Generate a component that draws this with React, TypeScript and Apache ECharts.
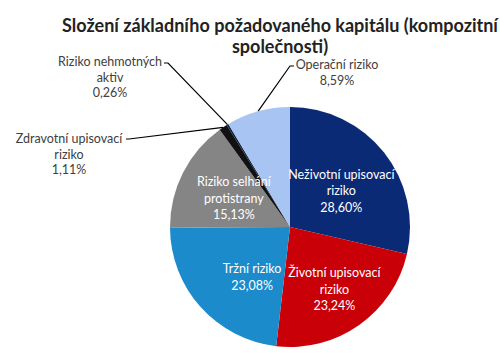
import React, { useEffect, useRef } from "react";
import * as echarts from "echarts";

const categories = [
  "Neživotní upisovací riziko",
  "Životní upisovací riziko",
  "Tržní riziko",
  "Riziko selhání protistrany",
  "Zdravotní upisovací riziko",
  "Riziko nehmotných aktiv",
  "Operační riziko",
];
const labelLines = [
  "Neživotní upisovací\nriziko",
  "Životní upisovací\nriziko",
  "Tržní riziko",
  "Riziko selhání\nprotistrany",
  "Zdravotní upisovací\nriziko",
  "Riziko nehmotných\naktiv",
  "Operační riziko",
];
const values = [28.6, 23.24, 23.08, 15.13, 1.11, 0.26, 8.59];
const colors = ["#0b2a76", "#c90008", "#1b8bcb", "#858585", "#111111", "#14243f", "#a8c4f2"];
const outside = [false, false, false, false, true, true, true];
const titleLines = ["Složení základního požadovaného kapitálu (kompozitní", "společnosti)"];

const FONT = "Lato, 'Liberation Sans', sans-serif";

export default function App() {
  const ref = useRef<HTMLDivElement>(null);
  useEffect(() => {
    document.body.style.margin = "0";
    const chart = echarts.init(ref.current!, undefined, { renderer: "svg" });
    const outerPos: Record<number, { x: number; y: number; bend: [number, number]; end: [number, number] }> = {
      4: { x: 69, y: 131, bend: [129, 139], end: [126, 139] },
      5: { x: 110, y: 54, bend: [168, 63], end: [164, 63] },
      6: { x: 337, y: 57, bend: [290, 66], end: [294, 66] },
    };
    const innerShift: Record<number, { dx: number; dy: number }> = {
      0: { dx: 2, dy: 3 },
      1: { dx: 8, dy: 11 },
      2: { dx: 9, dy: 8 },
    };
    chart.setOption({
      animation: false,
      backgroundColor: "#ffffff",
      title: titleLines.map((t, k) => ({
        text: t,
        left: 275,
        top: 11 + k * 21,
        textAlign: "center",
        textStyle: {
          fontFamily: FONT,
          fontSize: 18,
          fontWeight: "bold",
          color: "#222",
        },
      })),
      series: [
        {
          type: "pie",
          center: [290, 227],
          radius: [0, 120],
          startAngle: 90,
          clockwise: true,
          avoidLabelOverlap: false,
          itemStyle: { borderWidth: 0 },
          data: values.map((v, i) => ({
            name: categories[i],
            value: v,
            itemStyle: { color: colors[i] },
            label: outside[i]
              ? {
                  show: true,
                  position: "outside",
                  color: "#404040",
                  fontFamily: FONT,
                  fontSize: 12.5,
                  lineHeight: 15.5,
                  align: "center",
                  formatter: () => `${labelLines[i]}\n${v.toFixed(2).replace(".", ",")}%`,
                }
              : {
                  show: true,
                  position: "inside",
                  color: "#ffffff",
                  fontFamily: FONT,
                  fontSize: 12.5,
                  lineHeight: 16.5,
                  align: "center",
                  formatter: () => `${labelLines[i]}\n${v.toFixed(2).replace(".", ",")}%`,
                },
            labelLine: outside[i]
              ? { show: true, lineStyle: { color: "#000", width: 1.2 } }
              : { show: false },
          })),
          labelLayout: (params: any) => {
            const s = innerShift[params.dataIndex];
            if (s) return { dx: s.dx, dy: s.dy };
            const p = outerPos[params.dataIndex];
            if (!p) return {};
            const start = params.labelLinePoints ? params.labelLinePoints[0] : p.bend;
            return {
              x: p.x,
              y: p.y,
              align: "center",
              verticalAlign: "top",
              labelLinePoints: [start, p.bend, p.end],
            };
          },
        },
      ],
    });
    return () => chart.dispose();
  }, []);
  return <div ref={ref} style={{ width: 500, height: 355 }} />;
}
